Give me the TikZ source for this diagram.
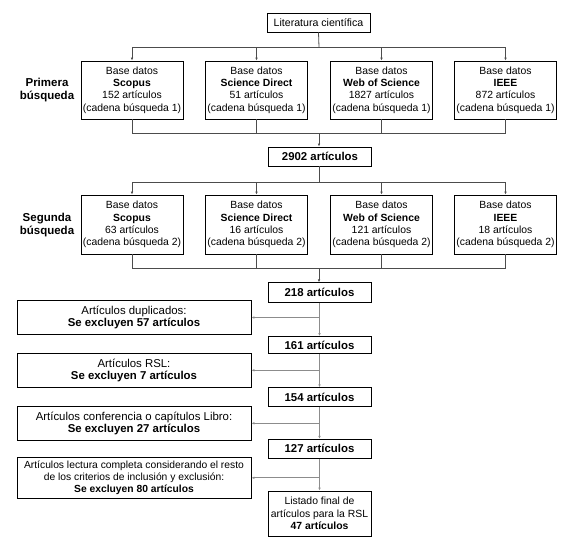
\documentclass[tikz,border=0pt]{standalone}
\usepackage{fontspec}
\setmainfont{Liberation Sans}
\usetikzlibrary{arrows.meta}
\begin{document}
\begin{tikzpicture}[x=1pt,y=-1pt,
  box/.style={draw=black,line width=0.9pt,inner sep=0pt,align=center,anchor=center},
  dbbox/.style={box,minimum width=102pt,minimum height=58pt,font=\fontsize{10.4}{12.3}\selectfont},
  cntbox/.style={box,minimum width=103pt,minimum height=19pt,font=\fontsize{11.4}{13}\selectfont\bfseries},
  exbox/.style={box,minimum width=234pt,font=\fontsize{11.4}{12.5}\selectfont},
  lbl/.style={align=center,font=\fontsize{11.5}{13}\selectfont\bfseries},
  conn/.style={draw=black!70,line width=0.8pt},
  conn2/.style={draw=black!45,line width=1pt},
  arr/.style={conn,-{Latex[length=3pt,width=2.6pt]}},
  arr2/.style={conn2,-{Latex[length=3pt,width=2.6pt]}}
]
\useasboundingbox (0,0) rectangle (568,550);
\fill[white] (0,0) rectangle (568,550);

% top
\node[box,minimum width=103pt,minimum height=19pt,font=\fontsize{10.6}{12}\selectfont] (top) at (318.5,22.5) {Literatura científica};

% first search
\node[dbbox] (a1) at (132,90) {Base datos\\\textbf{Scopus}\\152 artículos\\(cadena búsqueda 1)};
\node[dbbox] (a2) at (256.5,90) {Base datos\\\textbf{Science Direct}\\51 artículos\\(cadena búsqueda 1)};
\node[dbbox] (a3) at (381.5,90) {Base datos\\\textbf{Web of Science}\\1827 artículos\\(cadena búsqueda 1)};
\node[dbbox] (a4) at (505.5,90) {Base datos\\\textbf{IEEE}\\872 artículos\\(cadena búsqueda 1)};
\node[lbl] (l1) at (47,90) {Primera\\búsqueda};

\node[cntbox] (c2902) at (320,156.5) {2902 artículos};

% second search
\node[dbbox,minimum height=59pt] (b1) at (132,224.5) {Base datos\\\textbf{Scopus}\\63 artículos\\(cadena búsqueda 2)};
\node[dbbox,minimum height=59pt] (b2) at (256.5,224.5) {Base datos\\\textbf{Science Direct}\\16 artículos\\(cadena búsqueda 2)};
\node[dbbox,minimum height=59pt] (b3) at (381.5,224.5) {Base datos\\\textbf{Web of Science}\\121 artículos\\(cadena búsqueda 2)};
\node[dbbox,minimum height=59pt] (b4) at (505.5,224.5) {Base datos\\\textbf{IEEE}\\18 artículos\\(cadena búsqueda 2)};
\node[lbl] (l2) at (47,225) {Segunda\\búsqueda};

% counts
\node[cntbox,minimum height=19.5pt] (c218) at (319.5,292.5) {218 artículos};
\node[cntbox,minimum height=17pt] (c161) at (319.5,345) {161 artículos};
\node[cntbox] (c154) at (319.5,397.2) {154 artículos};
\node[cntbox] (c127) at (319.5,448.8) {127 artículos};
\node[box,minimum width=103pt,minimum height=45pt,font=\fontsize{10.4}{12.3}\selectfont] (fin) at (319.5,513.5) {Listado final de\\artículos para la RSL\\\textbf{47 artículos}};

% exclusions
\node[exbox,minimum height=33.6pt] (e1) at (134,317.5) {Artículos duplicados:\\\textbf{Se excluyen 57 artículos}};
\node[exbox,minimum height=34pt] (e2) at (134,370.3) {Artículos RSL:\\\textbf{Se excluyen 7 artículos}};
\node[exbox,minimum height=33.3pt] (e3) at (134,423.3) {Artículos conferencia o capítulos Libro:\\\textbf{Se excluyen 27 artículos}};
\node[exbox,minimum height=41pt,font=\fontsize{10.3}{12}\selectfont] (e4) at (134,477.8) {Artículos lectura completa considerando el resto\\de los criterios de inclusión y exclusión:\\\textbf{Se excluyen 80 artículos}};

% fork 1
\coordinate (f1) at (319,47);
\draw[conn] (top.south) -- (f1);
\draw[conn] (f1 -| a1.north) -- (f1 -| a4.north);
\foreach \n in {a1,a2,a3,a4} \draw[arr] (f1 -| \n.north) -- (\n.north);
% merge 1
\coordinate (m1) at (319,133);
\foreach \n in {a1,a2,a3,a4} \draw[conn] (\n.south) -- (m1 -| \n.south);
\draw[conn] (m1 -| a1.south) -- (m1 -| a4.south);
\draw[arr] (m1) -- (m1 |- c2902.north);

% fork 2
\coordinate (f2) at (319,182);
\draw[conn] (c2902.south -| f2) -- (f2);
\draw[conn] (f2 -| b1.north) -- (f2 -| b4.north);
\foreach \n in {b1,b2,b3,b4} \draw[arr] (f2 -| \n.north) -- (\n.north);
% merge 2
\coordinate (m2) at (319,268);
\foreach \n in {b1,b2,b3,b4} \draw[conn] (\n.south) -- (m2 -| \n.south);
\draw[conn] (m2 -| b1.south) -- (m2 -| b4.south);
\draw[arr] (m2) -- (m2 |- c218.north);

% spine
\draw[arr2] (c218.south) -- (c161.north);
\draw[arr2] (c161.south) -- (c154.north);
\draw[arr2] (c154.south) -- (c127.north);
\draw[arr2] (c127.south) -- (fin.north);
\draw[arr2] (e1.east -| c218.south) -- (e1.east);
\draw[arr2] (e2.east -| c218.south) -- (e2.east);
\draw[arr2] (e3.east -| c218.south) -- (e3.east);
\draw[arr2] (e4.east -| c218.south) -- (e4.east);
\end{tikzpicture}
\end{document}
